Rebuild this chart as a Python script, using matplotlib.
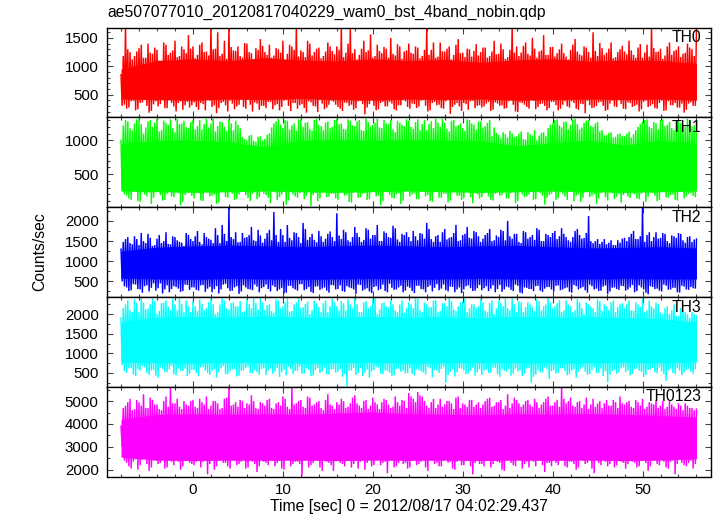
import numpy as np
import matplotlib
matplotlib.use("Agg")
import matplotlib.pyplot as plt
from matplotlib.ticker import MultipleLocator

plt.rcParams['font.family'] = ['Liberation Sans', 'DejaVu Sans']

title = "ae507077010_20120817040229_wam0_bst_4band_nobin.qdp"
xlabel = "Time [sec] 0 = 2012/08/17 04:02:29.437"
ylabel = "Counts/sec"
band_names = ["TH0", "TH1", "TH2", "TH3", "TH0123"]
band_colors = ["#ff0000", "#00ff00", "#0000ff", "#00ffff", "#ff00ff"]

t_start = -8.0
t_step = 0.25     # spacing of the spike readings (a: on the half second, b: in between)
core_step = 4.0   # spacing of the dense-band edge readings

# ---- TH0 ----
th0_hi_a = [850, 1700, 1250, 1180, 1320, 1150, 1400, 1220, 1290, 1100, 1380, 1240, 1450, 1180, 1300, 1550,
            1350, 1200, 1420, 1260, 1700, 1310, 1180, 1450, 1700, 1280, 1350, 1150, 1400, 1230, 1320, 1480,
            1250, 1380, 1190, 1300, 1450, 1220, 1350, 1700, 1280, 1160, 1400, 1250, 1330, 1180, 1420, 1270,
            1350, 1700, 1240, 1690, 1300, 1200, 1450, 1280, 1150, 1380, 1230, 1310, 1500, 1190, 1350, 1260,
            1400, 1220, 1330, 1180, 1700, 1290, 1150, 1420, 1260, 1350, 1200, 1480, 1240, 1310, 1170, 1390,
            1250, 1330, 1180, 1450, 1220, 1300, 1160, 1700, 1350, 1240, 1420, 1190, 1310, 1260, 1550, 1200,
            1340, 1230, 1400, 1170, 1290, 1480, 1210, 1350, 1250, 1600, 1180, 1320, 1240, 1420, 1160, 1300,
            1260, 1450, 1200, 1330, 1150, 1380, 1700, 1250, 1310, 1190, 1420, 1270, 1350, 1220, 1400, 1300, 1690]
th0_lo_a = [300, 250, 380, 220, 350, 410, 180, 330, 290, 400, 260, 350, 200, 380, 310, 270,
            360, 230, 330, 400, 280, 170, 350, 310, 390, 240, 320, 280, 410, 200, 340, 300,
            260, 370, 310, 220, 390, 300, 350, 250, 330, 180, 360, 290, 400, 240, 320, 370,
            280, 210, 350, 320, 260, 390, 150, 330, 300, 240, 370, 290, 340, 220, 310, 380,
            250, 330, 290, 400, 200, 350, 310, 260, 380, 160, 320, 290, 350, 230, 390, 300,
            270, 340, 210, 360, 300, 250, 380, 320, 190, 350, 280, 400, 240, 330, 300, 260,
            370, 220, 320, 290, 380, 250, 340, 170, 310, 270, 360, 300, 230, 390, 280, 330,
            240, 350, 300, 200, 370, 280, 330, 250, 390, 220, 310, 350, 270, 180, 340, 300, 380]
th0_hi_b = [1180, 1300, 1120, 1260, 1380, 1150, 1240, 1330, 1100, 1420, 1200, 1280, 1160, 1350, 1230, 1310,
            1140, 1380, 1250, 1190, 1300, 1600, 1220, 1130, 1340, 1270, 1180, 1410, 1250, 1120, 1290, 1360,
            1200, 1150, 1320, 1240, 1110, 1380, 1290, 1170, 1250, 1450, 1190, 1310, 1140, 1260, 1350, 1210,
            1290, 1160, 1400, 1230, 1120, 1310, 1250, 1560, 1180, 1270, 1340, 1150, 1220, 1390, 1130, 1280,
            1240, 1350, 1140, 1290, 1200, 1420, 1170, 1260, 1310, 1120, 1380, 1230, 1160, 1300, 1270, 1190,
            1330, 1150, 1260, 1210, 1400, 1130, 1290, 1240, 1180, 1360, 1220, 1500, 1150, 1280, 1200, 1340,
            1170, 1300, 1230, 1120, 1380, 1260, 1190, 1330, 1150, 1270, 1410, 1200, 1310, 1140, 1250, 1360,
            1210, 1280, 1150, 1390, 1240, 1170, 1320, 1260, 1130, 1350, 1200, 1290, 1160, 1240, 1330, 1180]
th0_lo_b = [320, 270, 390, 240, 360, 300, 210, 380, 330, 260, 400, 290, 350, 230, 370, 310,
            280, 350, 220, 390, 310, 260, 370, 200, 340, 290, 410, 250, 320, 360, 230, 300,
            370, 240, 330, 280, 400, 210, 350, 310, 260, 380, 300, 190, 340, 270, 390, 320,
            250, 360, 300, 230, 380, 330, 270, 410, 220, 350, 290, 370, 240, 310, 400, 280,
            340, 260, 390, 300, 220, 370, 320, 250, 400, 280, 350, 210, 330, 380, 260, 310,
            290, 370, 230, 340, 310, 260, 400, 200, 360, 320, 250, 390, 280, 340, 220, 370,
            310, 250, 380, 270, 350, 230, 330, 390, 260, 300, 370, 210, 340, 290, 400, 250,
            360, 280, 320, 240, 390, 300, 260, 350, 210, 380, 310, 270, 340, 230, 360, 300]

# ---- TH1 ----
th1_hi_a = [1000, 1300, 1180, 1250, 1320, 1100, 1280, 1200, 1320, 1150, 1260, 1310, 1120, 1240, 1290, 1180,
            1300, 1210, 1160, 1320, 1250, 1130, 1280, 1200, 1310, 1150, 1230, 1050, 1000, 1080, 980, 1060,
            1020, 1100, 1250, 1320, 1180, 1290, 1220, 1140, 1310, 1260, 1170, 1300, 1230, 1150, 1280, 1200,
            1320, 1250, 1160, 1290, 1210, 1300, 1140, 1270, 1230, 1320, 1180, 1250, 1300, 1120, 1260, 1210,
            1290, 1170, 1310, 1240, 1150, 1280, 1320, 1200, 1260, 1130, 1300, 1220, 1180, 1310, 1250, 1160,
            1280, 1210, 1300, 1190, 1080, 1120, 1040, 1100, 1060, 1130, 1010, 1090, 1150, 1070, 1120, 1180,
            1250, 1310, 1190, 1280, 1230, 1320, 1160, 1260, 1300, 1200, 1270, 1150, 1080, 1120, 1050, 1100,
            1060, 1130, 1090, 1200, 1280, 1310, 1180, 1250, 1300, 1210, 1270, 1150, 1290, 1230, 1320, 1200, 1260]
th1_lo_a = [250, 180, 120, 260, 90, 200, 230, 150, 280, 110, 210, 170, 240, 40, 190, 260,
            140, 220, 100, 250, 180, 60, 230, 160, 270, 120, 200, 240, 150, 210, 130, 250,
            190, 70, 230, 160, 260, 110, 200, 150, 240, 180, 30, 220, 140, 260, 170, 210,
            120, 240, 190, 80, 250, 160, 220, 130, 270, 180, 100, 230, 150, 200, 60, 250,
            170, 220, 130, 260, 190, 90, 240, 150, 210, 110, 250, 180, 140, 230, 70, 200,
            160, 250, 120, 210, 180, 260, 140, 230, 100, 200, 170, 240, 130, 220, 50, 190,
            240, 150, 210, 120, 260, 180, 90, 230, 160, 200, 140, 250, 110, 220, 170, 80,
            230, 150, 200, 130, 260, 170, 220, 100, 240, 160, 190, 120, 250, 140, 210, 180, 230]
th1_hi_b = [1220, 1280, 1150, 1310, 1240, 1190, 1300, 1260, 1130, 1290, 1230, 1180, 1320, 1250, 1200, 1270,
            1160, 1300, 1240, 1190, 1320, 1210, 1270, 1140, 1250, 1290, 1180, 1020, 1070, 990, 1050, 1000,
            1080, 1190, 1280, 1230, 1300, 1160, 1250, 1310, 1200, 1270, 1140, 1320, 1210, 1260, 1180, 1300,
            1240, 1170, 1310, 1220, 1280, 1150, 1320, 1200, 1260, 1190, 1300, 1240, 1160, 1290, 1230, 1310,
            1200, 1270, 1150, 1300, 1240, 1180, 1260, 1320, 1170, 1290, 1210, 1250, 1140, 1300, 1230, 1280,
            1190, 1260, 1060, 1110, 1030, 1090, 1140, 1050, 1100, 1020, 1120, 1070, 1000, 1110, 1060, 1230,
            1300, 1220, 1270, 1160, 1310, 1240, 1190, 1290, 1210, 1250, 1130, 1070, 1110, 1040, 1090, 1060,
            1100, 1040, 1150, 1240, 1300, 1200, 1270, 1160, 1310, 1230, 1180, 1290, 1250, 1200, 1300, 1220]
th1_lo_b = [200, 140, 260, 100, 230, 170, 60, 250, 190, 120, 270, 160, 220, 90, 240, 180,
            230, 110, 260, 170, 200, 80, 240, 150, 210, 130, 270, 190, 100, 230, 160, 210,
            150, 250, 120, 200, 50, 240, 170, 220, 130, 260, 190, 100, 230, 160, 210, 140,
            260, 180, 90, 230, 150, 210, 120, 270, 170, 40, 240, 190, 140, 220, 110, 250,
            200, 130, 240, 170, 100, 260, 150, 210, 80, 230, 180, 120, 250, 160, 220, 140,
            230, 170, 110, 250, 190, 140, 220, 70, 240, 160, 200, 120, 260, 180, 150, 210,
            120, 230, 170, 260, 100, 200, 150, 240, 180, 60, 220, 160, 250, 130, 210, 190,
            170, 250, 140, 210, 90, 230, 180, 120, 260, 150, 200, 110, 240, 170, 220, 160]

# ---- TH2 ----
th2_hi_a = [1300, 1550, 1450, 1620, 1400, 1500, 1680, 1380, 1560, 1450, 1720, 1420, 1600, 1480, 1380, 1650,
            1500, 1750, 1420, 1600, 1530, 1820, 1450, 1680, 2340, 1550, 1470, 1700, 1600, 1850, 1500, 1640,
            1560, 1780, 2220, 1480, 1650, 1900, 1520, 1700, 1450, 1800, 1600, 1530, 1750, 1480, 1680, 1600,
            2190, 1550, 1720, 1480, 1850, 1600, 1530, 1780, 1650, 1900, 1500, 1700, 1580, 1820, 1480, 1650,
            1600, 1750, 1520, 1680, 1950, 1550, 1620, 1480, 1800, 1580, 1700, 1500, 1650, 1850, 1560, 1720,
            1480, 1650, 1800, 1520, 1600, 1750, 2000, 1560, 1680, 1450, 1720, 1600, 1530, 1780, 1500, 1650,
            1700, 1550, 1820, 1600, 1480, 1750, 1650, 1580, 2120, 1450, 1550, 1480, 1420, 1520, 1400, 1460,
            1580, 1600, 1750, 1550, 2340, 1650, 1500, 1720, 1580, 1680, 1450, 1620, 1700, 1520, 1600, 1480, 1550]
th2_lo_a = [500, 350, 280, 420, 300, 380, 250, 450, 330, 200, 400, 310, 360, 240, 420, 290,
            350, 270, 410, 320, 230, 380, 300, 440, 260, 350, 190, 400, 310, 280, 370, 330,
            420, 250, 360, 300, 200, 390, 330, 270, 430, 310, 240, 370, 290, 350, 220, 400,
            310, 260, 380, 330, 190, 410, 300, 250, 360, 280, 420, 230, 340, 300, 390, 270,
            340, 210, 390, 300, 360, 250, 430, 320, 280, 370, 230, 350, 300, 400, 260, 330,
            280, 380, 320, 230, 410, 300, 350, 260, 390, 200, 340, 310, 380, 270, 320, 360,
            250, 400, 300, 350, 220, 380, 330, 280, 420, 300, 260, 370, 190, 340, 310, 390,
            270, 350, 230, 400, 300, 180, 360, 320, 250, 390, 300, 340, 220, 370, 290, 330, 400]
th2_hi_b = [1480, 1600, 1420, 1550, 1700, 1450, 1580, 1400, 1650, 1500, 1430, 1620, 1520, 1460, 1700, 1550,
            1620, 1480, 1700, 1560, 1450, 1650, 1900, 1500, 1600, 1720, 1480, 1580, 1650, 1520, 1780, 1460,
            1700, 1520, 1650, 1800, 1480, 1580, 1720, 1600, 1950, 1530, 1680, 1470, 1620, 1560, 1740, 1500,
            1640, 1780, 1520, 1600, 1700, 1480, 1820, 1560, 1650, 1500, 1740, 1600, 1880, 1540, 1680, 1720,
            1500, 1620, 1700, 1560, 1800, 1480, 1650, 1720, 1540, 1600, 1900, 1520, 1680, 1580, 1750, 1620,
            1560, 1700, 1500, 1640, 1780, 1520, 1620, 1680, 1480, 1750, 1560, 1650, 1820, 1500, 1680, 1600,
            1750, 1620, 1680, 1520, 1600, 1800, 1560, 1700, 1500, 1500, 1430, 1550, 1460, 1400, 1520, 1560,
            1500, 1680, 1550, 1620, 1480, 1720, 1600, 1560, 1700, 1500, 1640, 1580, 1680, 1460, 1620, 1540]
th2_lo_b = [380, 260, 430, 310, 220, 400, 340, 270, 450, 300, 230, 380, 320, 260, 410, 350,
            290, 400, 240, 360, 310, 200, 420, 330, 270, 380, 250, 350, 300, 420, 230, 360,
            310, 400, 260, 340, 220, 390, 300, 430, 280, 360, 210, 380, 320, 270, 410, 300,
            400, 240, 350, 300, 420, 270, 330, 210, 380, 310, 260, 440, 290, 350, 230, 370,
            260, 390, 310, 230, 400, 340, 280, 420, 250, 360, 300, 210, 380, 330, 270, 410,
            330, 260, 400, 310, 240, 370, 290, 420, 220, 350, 310, 260, 390, 240, 360, 300,
            390, 280, 330, 240, 410, 300, 360, 220, 380, 320, 270, 400, 250, 350, 290, 380,
            300, 410, 260, 350, 220, 380, 310, 270, 420, 290, 340, 230, 390, 300, 360, 320]

# ---- TH3 ----
th3_hi_a = [1900, 2250, 2100, 2380, 2050, 2300, 2150, 2400, 2000, 2280, 2350, 2100, 2250, 2420, 2050, 2200,
            2330, 2080, 2270, 2150, 2400, 2000, 2250, 2350, 2120, 2300, 2200, 2050, 2380, 2150, 2280, 2420,
            2100, 2250, 2030, 2350, 2200, 2400, 2080, 2300, 2150, 2260, 2000, 2350, 2180, 2280, 2050, 2400,
            2200, 2330, 2100, 2250, 2420, 2050, 2300, 2150, 2380, 2000, 2280, 2200, 2350, 2100, 2250, 2030,
            2300, 2150, 2400, 2050, 2250, 2180, 2350, 2080, 2280, 2420, 2120, 2200, 2330, 2050, 2250, 2150,
            2380, 2100, 2280, 2000, 2350, 2200, 2150, 2400, 2050, 2300, 2180, 2250, 2080, 2330, 2200, 2420,
            2150, 2280, 2050, 2350, 2200, 2100, 2300, 2000, 2250, 2150, 2380, 2080, 2200, 2300, 2050, 2250,
            2150, 2350, 2080, 2250, 2400, 2100, 2200, 2300, 2050, 2150, 2000, 2250, 1950, 2100, 2000, 2050, 1950]
th3_lo_a = [700, 500, 620, 420, 560, 650, 450, 580, 380, 600, 520, 680, 440, 550, 610, 480,
            580, 420, 650, 500, 560, 380, 620, 470, 540, 600, 430, 570, 660, 490, 520, 600,
            450, 610, 530, 400, 580, 660, 480, 550, 480, 620, 420, 570, 500, 640, 460, 590,
            530, 400, 150, 560, 450, 620, 510, 380, 580, 640, 470, 550, 420, 600, 530, 490,
            620, 440, 570, 510, 650, 390, 560, 600, 250, 530, 410, 620, 560, 480, 640, 520,
            450, 590, 510, 630, 400, 560, 600, 480, 540, 420, 610, 260, 460, 520, 640, 350,
            580, 500, 620, 440, 560, 380, 600, 530, 470, 650, 510, 420, 260, 550, 480, 620,
            520, 440, 600, 560, 400, 580, 630, 490, 540, 300, 610, 470, 560, 520, 600, 480, 580]
th3_hi_b = [2150, 2350, 2050, 2280, 2400, 2120, 2250, 2330, 2080, 2300, 2180, 2400, 2100, 2260, 2350, 2050,
            2200, 2380, 2100, 2300, 2250, 2050, 2400, 2150, 2280, 2200, 2330, 2080, 2250, 2400, 2120, 2300,
            2230, 2080, 2380, 2150, 2300, 2050, 2250, 2400, 2180, 2320, 2100, 2280, 2050, 2350, 2200, 2300,
            2100, 2280, 2380, 2150, 2250, 2050, 2330, 2200, 2400, 2120, 2300, 2180, 2250, 2050, 2350, 2150,
            2250, 2400, 2100, 2300, 2180, 2350, 2050, 2280, 2200, 2330, 2080, 2300, 2400, 2150, 2250, 2200,
            2300, 2050, 2350, 2150, 2280, 2400, 2100, 2250, 2330, 2050, 2300, 2180, 2380, 2100, 2250, 2300,
            2200, 2350, 2100, 2250, 2050, 2380, 2150, 2300, 2200, 2050, 2330, 2250, 2100, 2350, 2180, 2280,
            2250, 2100, 2300, 2180, 2050, 2350, 2150, 2250, 2000, 2200, 2100, 1950, 2150, 2050, 1900, 2000]
th3_lo_b = [550, 620, 460, 590, 680, 500, 560, 430, 640, 520, 590, 470, 610, 550, 420, 580,
            500, 640, 560, 450, 600, 520, 680, 470, 590, 410, 560, 630, 500, 570, 450, 620,
            560, 480, 630, 520, 440, 600, 550, 660, 490, 580, 430, 620, 540, 470, 600, 510,
            600, 470, 560, 630, 500, 420, 590, 540, 650, 480, 570, 510, 440, 610, 560, 500,
            480, 600, 540, 460, 620, 570, 500, 650, 440, 590, 520, 610, 470, 560, 430, 600,
            560, 500, 640, 470, 590, 530, 430, 610, 560, 480, 630, 400, 570, 510, 600, 540,
            490, 620, 550, 470, 600, 530, 650, 450, 580, 500, 610, 540, 460, 590, 520, 640,
            560, 480, 610, 530, 450, 590, 520, 640, 470, 570, 500, 620, 440, 580, 530, 600]

# ---- TH0123 ----
th0123_hi_a = [3900, 4800, 5100, 4650, 4950, 5300, 4700, 5050, 4850, 4600, 5200, 5600, 4900, 4750, 5000, 4800,
               5050, 4700, 4950, 5200, 4800, 5000, 4650, 5100, 5600, 4850, 4750, 5000, 4900, 5250, 4700, 4950,
               4800, 5100, 4650, 4950, 5200, 4750, 5600, 4900, 5050, 4700, 5150, 4850, 5000, 4600, 5300, 4800,
               4950, 5100, 4700, 4900, 5250, 4800, 5000, 4650, 5150, 4850, 4950, 5050, 4700, 5200, 4800, 5000,
               5350, 5100, 5400, 5200, 4800, 4950, 4700, 5100, 4850, 5000, 4650, 5200, 4900, 4750, 5050, 4850,
               4700, 5000, 5150, 4800, 4950, 4650, 5300, 4900, 5050, 4750, 5000, 4850, 5100, 4700, 4950, 5200,
               4800, 5050, 5620, 4900, 5150, 4750, 5000, 4850, 4650, 5100, 4900, 4700, 5050, 4800, 4950, 5200,
               4850, 5000, 4700, 4950, 5100, 4750, 4900, 5050, 4800, 4650, 5000, 4750, 4900, 4600, 4800, 4700, 4650]
th0123_lo_a = [3000, 2300, 2050, 2450, 2200, 2550, 1950, 2400, 2250, 2500, 2100, 2350, 2600, 2000, 2450, 2300,
               2200, 2500, 2350, 1800, 2450, 2150, 2550, 2300, 2050, 2400, 2250, 2600, 2100, 2350, 1900, 2450,
               2300, 2550, 2150, 2400, 2000, 2500, 2250, 2350, 1750, 2450, 2200, 2550, 2100, 2400, 2300, 1950,
               2500, 2250, 2400, 2100, 2550, 2350, 2000, 2450, 2200, 2600, 2300, 1850, 2450, 2150, 2500, 2300,
               2100, 2450, 2250, 2550, 1950, 2400, 2300, 2150, 2500, 2350, 2000, 2450, 2200, 2550, 1800, 2400,
               2250, 2500, 2100, 2400, 2300, 1950, 2550, 2200, 2450, 2050, 2350, 2500, 2150, 2400, 1900, 2300,
               2450, 2200, 2550, 2100, 2350, 2000, 2500, 2250, 2400, 1850, 2300, 2550, 2150, 2450, 2200, 2350,
               2050, 2500, 2300, 2150, 2450, 1950, 2400, 2250, 2550, 2100, 2350, 1800, 2450, 2200, 2300, 2050, 2400]
th0123_hi_b = [4700, 4950, 4600, 5050, 4800, 4700, 5150, 4850, 4650, 5000, 4750, 4900, 5100, 4650, 4850, 5000,
               4750, 5100, 4850, 4650, 5000, 4900, 4700, 5150, 4800, 4950, 5050, 4700, 4850, 5000, 4650, 4900,
               5050, 4700, 4900, 4800, 5100, 4650, 4850, 5000, 4750, 5200, 4800, 4950, 4700, 5050, 4850, 4650,
               4850, 5000, 4750, 5150, 4900, 4700, 5050, 4800, 4950, 4650, 5100, 4850, 4750, 4950, 5050, 4700,
               5200, 4950, 5250, 5000, 4700, 5100, 4850, 4750, 5000, 4900, 5150, 4700, 4850, 5050, 4750, 4950,
               4850, 5100, 4750, 4950, 5050, 4800, 4700, 5150, 4900, 4850, 5050, 4750, 4950, 4850, 5100, 4800,
               4950, 4750, 5100, 5000, 4800, 4950, 4700, 5150, 4850, 4750, 5000, 4900, 4800, 5050, 4700, 4900,
               4950, 4750, 5050, 4800, 4650, 4950, 4850, 4700, 5000, 4750, 4850, 4650, 4800, 4900, 4700, 4600]
th0123_lo_b = [2400, 2150, 2350, 2000, 2450, 2250, 2100, 2400, 2300, 2050, 2450, 2200, 2350, 2150, 2400, 2250,
               2350, 2100, 2450, 2250, 2000, 2400, 2300, 2150, 2450, 2200, 2350, 2050, 2400, 2250, 2150, 2350,
               2200, 2400, 2300, 2050, 2450, 2150, 2350, 2250, 2400, 2100, 2300, 2450, 1950, 2350, 2200, 2400,
               2300, 2150, 2450, 2250, 2050, 2400, 2300, 2150, 2450, 2200, 2350, 2400, 2100, 2300, 2250, 2050,
               2400, 2200, 2350, 2100, 2450, 2250, 2150, 2400, 2300, 2050, 2350, 2200, 2450, 2150, 2300, 2250,
               2150, 2400, 2250, 2350, 2000, 2450, 2300, 2150, 2400, 2250, 2100, 2350, 2450, 2200, 2300, 2150,
               2300, 2450, 2150, 2350, 2250, 2100, 2400, 2300, 2050, 2450, 2200, 2350, 2250, 2100, 2400, 2300,
               2250, 2350, 2100, 2400, 2300, 2150, 2450, 2200, 2350, 2050, 2400, 2250, 2300, 2150, 2400, 2250]

# edges of the solid (dense) part of each band, read every 4 s
th0_core_top = [950, 1100, 1130, 1100, 1150, 1110, 1090, 1130, 1100, 1120, 1070, 1110, 1130, 1090, 1110, 1100, 1050]
th0_core_bot = [420, 410, 400, 420, 410, 430, 410, 400, 420, 410, 420, 400, 410, 420, 410, 420, 400]
th1_core_top = [950, 1000, 1000, 980, 900, 1000, 1010, 1000, 1010, 1000, 990, 920, 960, 1000, 930, 1000, 950]
th1_core_bot = [250, 240, 230, 240, 250, 240, 230, 240, 250, 240, 230, 240, 250, 240, 230, 240, 250]
th2_core_top = [1250, 1350, 1380, 1400, 1380, 1360, 1380, 1400, 1380, 1360, 1380, 1390, 1360, 1330, 1340, 1360, 1330]
th2_core_bot = [580, 560, 550, 570, 560, 550, 560, 570, 550, 560, 570, 560, 550, 560, 570, 560, 560]
th3_core_top = [1800, 1920, 1940, 1920, 1950, 1930, 1920, 1940, 1920, 1930, 1910, 1940, 1920, 1930, 1910, 1880, 1800]
th3_core_bot = [780, 760, 750, 770, 760, 750, 760, 770, 750, 760, 770, 760, 750, 760, 770, 760, 780]
th0123_core_top = [4200, 4420, 4440, 4420, 4440, 4420, 4470, 4520, 4440, 4420, 4400, 4440, 4420, 4450, 4420, 4370, 4300]
th0123_core_bot = [2550, 2420, 2400, 2420, 2410, 2420, 2400, 2420, 2410, 2420, 2400, 2420, 2410, 2420, 2400, 2420, 2480]

highs_a = [th0_hi_a, th1_hi_a, th2_hi_a, th3_hi_a, th0123_hi_a]
lows_a = [th0_lo_a, th1_lo_a, th2_lo_a, th3_lo_a, th0123_lo_a]
highs_b = [th0_hi_b, th1_hi_b, th2_hi_b, th3_hi_b, th0123_hi_b]
lows_b = [th0_lo_b, th1_lo_b, th2_lo_b, th3_lo_b, th0123_lo_b]
core_tops = [th0_core_top, th1_core_top, th2_core_top, th3_core_top, th0123_core_top]
core_bots = [th0_core_bot, th1_core_bot, th2_core_bot, th3_core_bot, th0123_core_bot]

y_limits = [(98, 1684), (13, 1340), (115, 2343), (150, 2440), (1706, 5627)]
y_major = [500, 500, 500, 500, 1000]
y_minor = [100, 100, 250, 250, 500]
x_limits = (-9.56, 57.56)

W, H = 717, 516
fig = plt.figure(figsize=(W / 100, H / 100), dpi=100)
left_px, right_px = 107, 710.5
top_px, bot_px = 27.5, 476.5
ph = (bot_px - top_px) / 5
fs = 10.8


def interleave(a, b):
    out = np.empty(len(a) + len(b))
    out[0::2] = a
    out[1::2] = b
    return out


axes = []
for k in range(5):
    y0 = top_px + k * ph
    ax = fig.add_axes([left_px / W, 1 - (y0 + ph) / H, (right_px - left_px) / W, ph / H])
    axes.append(ax)
    hi = interleave(np.asarray(highs_a[k], float), np.asarray(highs_b[k], float))
    lo = interleave(np.asarray(lows_a[k], float), np.asarray(lows_b[k], float))
    t = t_start + t_step * np.arange(len(hi))
    ct = np.asarray(core_tops[k], dtype=float)
    cb = np.asarray(core_bots[k], dtype=float)
    tc = t_start + core_step * np.arange(len(ct))
    ax.fill_between(tc, cb, ct, color=band_colors[k], lw=0)
    xs = interleave(t, t + t_step / 2)
    ys = interleave(hi, lo)
    ax.plot(xs[:-1], ys[:-1], color=band_colors[k], lw=1.05, solid_joinstyle='miter')
    ax.set_xlim(*x_limits)
    ax.set_ylim(*y_limits[k])
    ax.xaxis.set_major_locator(MultipleLocator(10))
    ax.xaxis.set_minor_locator(MultipleLocator(2))
    ax.yaxis.set_major_locator(MultipleLocator(y_major[k]))
    ax.yaxis.set_minor_locator(MultipleLocator(y_minor[k]))
    ax.tick_params(which='both', direction='in', top=True, right=True, colors='#444444',
                   labelcolor='black', labelsize=fs, width=0.8)
    ax.tick_params(which='major', length=4.5)
    ax.tick_params(which='minor', length=2.2)
    ax.tick_params(axis='y', pad=6)
    ax.tick_params(axis='x', pad=5)
    for s in ax.spines.values():
        s.set_linewidth(1.0)
        s.set_color('black')
    if k < 4:
        ax.tick_params(labelbottom=False)
    ax.text(0.985, 0.97, band_names[k], transform=ax.transAxes, ha='right', va='top',
            fontsize=fs + 0.5, color='black')

axes[-1].set_xlabel(xlabel, fontsize=fs + 0.5, labelpad=1)
fig.text(left_px / W, 1 - 12 / H, title, ha='left', va='center', fontsize=fs + 0.5)
fig.text(40 / W, 1 - 252 / H, ylabel, rotation=90, ha='center', va='center', fontsize=fs + 0.5)

fig.savefig("out.png", dpi=100)
